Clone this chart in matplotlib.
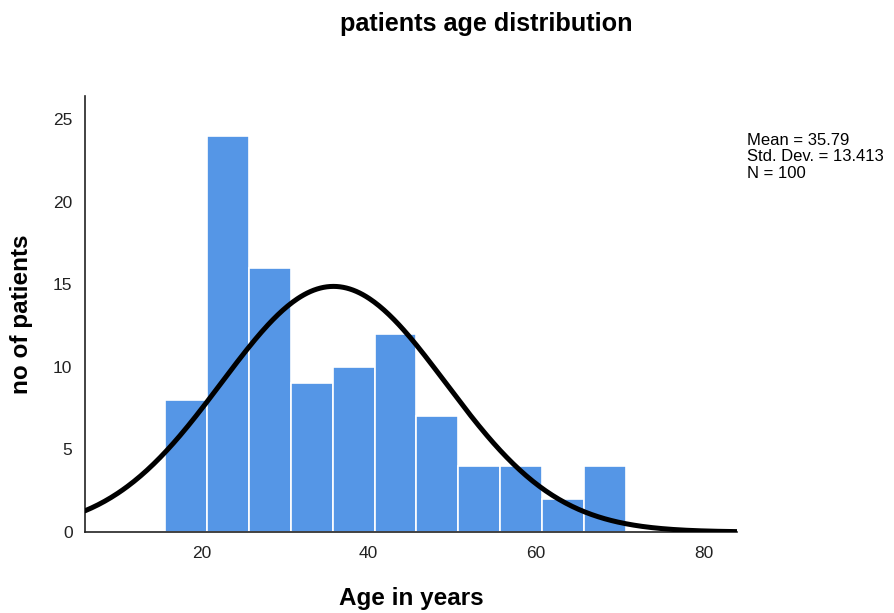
import numpy as np
import matplotlib
matplotlib.use("Agg")
import matplotlib.pyplot as plt

plt.rcParams['font.family'] = ['Liberation Sans', 'DejaVu Sans']

bin_start = 15.7
bin_width = 5.0
counts = [8, 24, 16, 9, 10, 12, 7, 4, 4, 2, 4]
mean = 35.79
std = 13.413
n = 100
x_ticks = [20, 40, 60, 80]
y_ticks = [0, 5, 10, 15, 20, 25]

fig = plt.figure(figsize=(8.94, 6.13), dpi=100)
ax = fig.add_axes([85 / 894, 1 - 532 / 613, (737 - 85) / 894, (532 - 96) / 613])

lefts = [bin_start + i * bin_width for i in range(len(counts))]
ax.bar(lefts, counts, width=bin_width, align='edge', color='#5596E6',
       edgecolor='white', linewidth=1.2, zorder=2)

xlim = (6.1, 84.0)
xs = np.linspace(xlim[0], xlim[1], 400)
ys = n * bin_width / (std * np.sqrt(2 * np.pi)) * np.exp(-0.5 * ((xs - mean) / std) ** 2)
ax.plot(xs, ys, color='black', linewidth=3.6, zorder=3, solid_capstyle='round')

ax.set_xlim(*xlim)
ax.set_ylim(0, 26.4)
ax.set_xticks(x_ticks)
ax.set_yticks(y_ticks)
ax.tick_params(axis='both', length=0, labelsize=12.5, colors='#222222')
ax.tick_params(axis='x', pad=10)
ax.tick_params(axis='y', pad=9)
for s in ['top', 'right']:
    ax.spines[s].set_visible(False)
for s in ['left', 'bottom']:
    ax.spines[s].set_color('#222222')
    ax.spines[s].set_linewidth(1.2)

fig.text(411 / 894, 1 - 598 / 613, 'Age in years', ha='center', va='center',
         fontsize=17.5, fontweight='bold')
fig.text(22 / 894, 1 - 314 / 613, 'no of patients', ha='center', va='center',
         rotation=90, fontsize=17.5, fontweight='bold')

fig.text(486 / 894, 1 - 24 / 613, 'patients age distribution', ha='center', va='center',
         fontsize=18.2, fontweight='bold')
fig.text(747 / 894, 1 - 133 / 613, f'Mean = {mean}\nStd. Dev. = {std}\nN = {n}',
         ha='left', va='top', fontsize=12, linespacing=1.12)

fig.savefig('out.png', dpi=100)
